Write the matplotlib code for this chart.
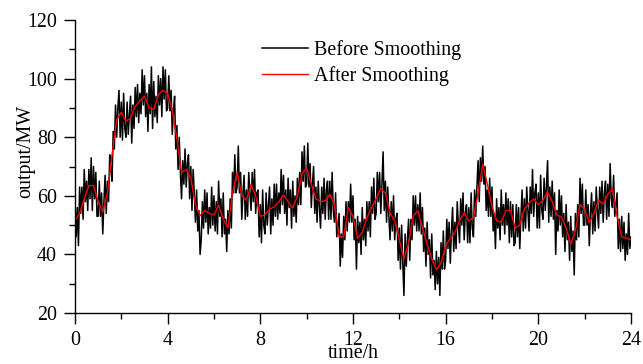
import matplotlib

matplotlib.use("Agg")
import matplotlib.pyplot as plt
from matplotlib.ticker import MultipleLocator

plt.rcParams["font.family"] = ["Liberation Serif", "DejaVu Serif"]

# raw output, one reading every 0.05 h (3 min) from 0 h to 24 h, one row per hour
raw_start, raw_step = 0.0, 0.05
raw_output = [
    58, 46, 56, 43, 63, 54, 63, 52, 69, 58, 65, 55, 69, 59, 73, 55, 70, 59, 68, 53,
    53, 65, 53, 61, 47, 58, 67, 54, 65, 58, 74, 69, 65, 82, 76, 91, 80, 90, 96, 80,
    92, 79, 95, 83, 80, 92, 81, 88, 94, 78, 91, 83, 97, 87, 98, 85, 95, 88, 103, 91,
    101, 87, 95, 82, 98, 88, 104, 83, 99, 87, 94, 85, 101, 91, 100, 87, 104, 93, 103, 89,
    90, 101, 89, 96, 81, 89, 94, 76, 84, 69, 80, 68, 59, 72, 64, 76, 63, 71, 74, 59,
    70, 55, 69, 61, 51, 62, 48, 55, 40, 45, 58, 49, 62, 51, 61, 47, 56, 49, 63, 50,
    60, 48, 58, 47, 65, 53, 59, 46, 61, 47, 52, 41, 55, 47, 59, 49, 68, 61, 74, 61,
    63, 77, 61, 68, 52, 61, 67, 52, 62, 53, 68, 61, 55, 68, 58, 69, 54, 61, 62, 46,
    57, 44, 62, 50, 47, 61, 50, 57, 63, 47, 59, 50, 64, 53, 64, 52, 61, 54, 69, 57,
    67, 54, 62, 50, 66, 56, 62, 49, 65, 53, 60, 51, 66, 57, 68, 57, 75, 65, 77, 63,
    64, 78, 63, 71, 56, 64, 70, 54, 63, 51, 65, 56, 49, 63, 54, 66, 52, 62, 65, 52,
    65, 52, 68, 55, 51, 61, 46, 50, 54, 36, 47, 39, 53, 45, 58, 48, 58, 51, 64, 51,
    60, 45, 52, 35, 53, 44, 51, 40, 56, 45, 52, 43, 58, 48, 58, 46, 63, 54, 66, 52,
    54, 68, 58, 68, 54, 64, 75, 55, 65, 51, 63, 53, 45, 58, 48, 60, 45, 52, 54, 38,
    49, 35, 50, 37, 26, 47, 36, 45, 52, 38, 52, 45, 60, 50, 60, 48, 57, 48, 61, 47,
    56, 41, 49, 36, 51, 40, 45, 32, 47, 33, 38, 28, 41, 30, 39, 26, 44, 35, 48, 35,
    38, 52, 42, 51, 37, 48, 56, 41, 51, 42, 58, 50, 44, 59, 50, 61, 45, 54, 57, 44,
    56, 44, 61, 49, 46, 62, 53, 63, 72, 58, 73, 65, 77, 64, 70, 55, 62, 53, 66, 53,
    63, 48, 54, 42, 59, 49, 56, 45, 62, 50, 57, 47, 61, 50, 59, 44, 58, 46, 57, 43,
    44, 57, 46, 56, 42, 53, 62, 48, 59, 49, 63, 55, 48, 63, 54, 69, 53, 61, 64, 49,
    61, 49, 67, 55, 52, 66, 55, 63, 72, 51, 63, 53, 65, 52, 61, 40, 55, 48, 62, 50,
    60, 46, 54, 41, 57, 45, 51, 38, 53, 41, 48, 33, 54, 45, 57, 46, 66, 54, 64, 50,
    50, 62, 50, 57, 43, 54, 61, 47, 58, 48, 63, 55, 49, 63, 54, 65, 51, 61, 65, 52,
    64, 53, 71, 59, 56, 67, 53, 57, 61, 42, 52, 41, 53, 42, 51, 38, 47, 40, 54, 42,
    46,
]

# smoothed output, one value every 0.2 h
smooth_start, smooth_step = 0.0, 0.2
smooth_output = [
    51.5, 54, 59, 63.5, 63.5,
    58, 54.5, 61, 74, 86,
    88.5, 85.5, 86.5, 90.5, 92.5,
    94, 90, 89.5, 94.5, 96,
    95, 89, 79.5, 68, 69,
    66, 57, 53.2, 55, 54,
    53.5, 56.8, 52, 49, 61,
    68, 60, 58.5, 63.8, 60,
    53, 53.5, 55.5, 56.2, 58,
    60.3, 58, 55.8, 60, 67.5,
    69.5, 64, 59, 58, 58.3,
    60.5, 57, 46, 46, 56,
    53, 45.5, 47.5, 52.5, 56,
    59, 62.5, 61, 54, 51.5,
    45, 38.5, 44, 53, 55,
    49, 43.5, 38.5, 34.8, 37,
    43, 45.5, 47.5, 51.5, 54.2,
    51.5, 52.5, 61, 70.8, 64,
    56.5, 51.5, 51, 55, 55,
    49, 50, 55.5, 57.5, 59,
    57, 58.5, 61.4, 58, 53.4,
    52.8, 49, 43.6, 48, 57,
    55.5, 50.8, 54, 58.5, 57.3,
    60.5, 62.5, 53, 46, 45.5,
    45,
]

x_ticks = [0, 4, 8, 12, 16, 20, 24]
y_ticks = [20, 40, 60, 80, 100, 120]


def plot_smoothing():
    fig = plt.figure(figsize=(6.43, 3.64), dpi=100)
    ax = fig.add_axes([0.1166, 0.140, 0.8647, 0.805])

    raw_time = [raw_start + i * raw_step for i in range(len(raw_output))]
    smooth_time = [smooth_start + i * smooth_step for i in range(len(smooth_output))]

    ax.plot(raw_time, raw_output, color="black", lw=1.1, label="Before Smoothing")
    ax.plot(smooth_time, smooth_output, color="red", lw=1.0, label="After Smoothing")

    ax.set_xlim(0, 24)
    ax.set_ylim(20, 120)
    ax.set_xticks(x_ticks)
    ax.set_yticks(y_ticks)
    ax.xaxis.set_minor_locator(MultipleLocator(2))
    ax.yaxis.set_minor_locator(MultipleLocator(10))

    # origin-style axes: only left and bottom
    ax.spines["top"].set_visible(False)
    ax.spines["right"].set_visible(False)
    for side in ("left", "bottom"):
        ax.spines[side].set_linewidth(1.0)
    ax.tick_params(which="major", length=8, width=1.0, labelsize=14.4, pad=5)
    ax.tick_params(which="minor", length=4, width=1.0)

    ax.set_xlabel("time/h", fontsize=14.4, labelpad=-4.5)
    ax.set_ylabel("output/MW", fontsize=14.4)
    ax.yaxis.set_label_coords(-0.072, 0.55)

    ax.legend(
        loc="upper left",
        bbox_to_anchor=(0.336, 0.93),
        frameon=False,
        fontsize=14.4,
        handlelength=2.3,
        handletextpad=0.3,
        labelspacing=0.3,
        borderpad=0,
        borderaxespad=0,
    )

    fig.savefig("out.png", dpi=100)


plot_smoothing()
